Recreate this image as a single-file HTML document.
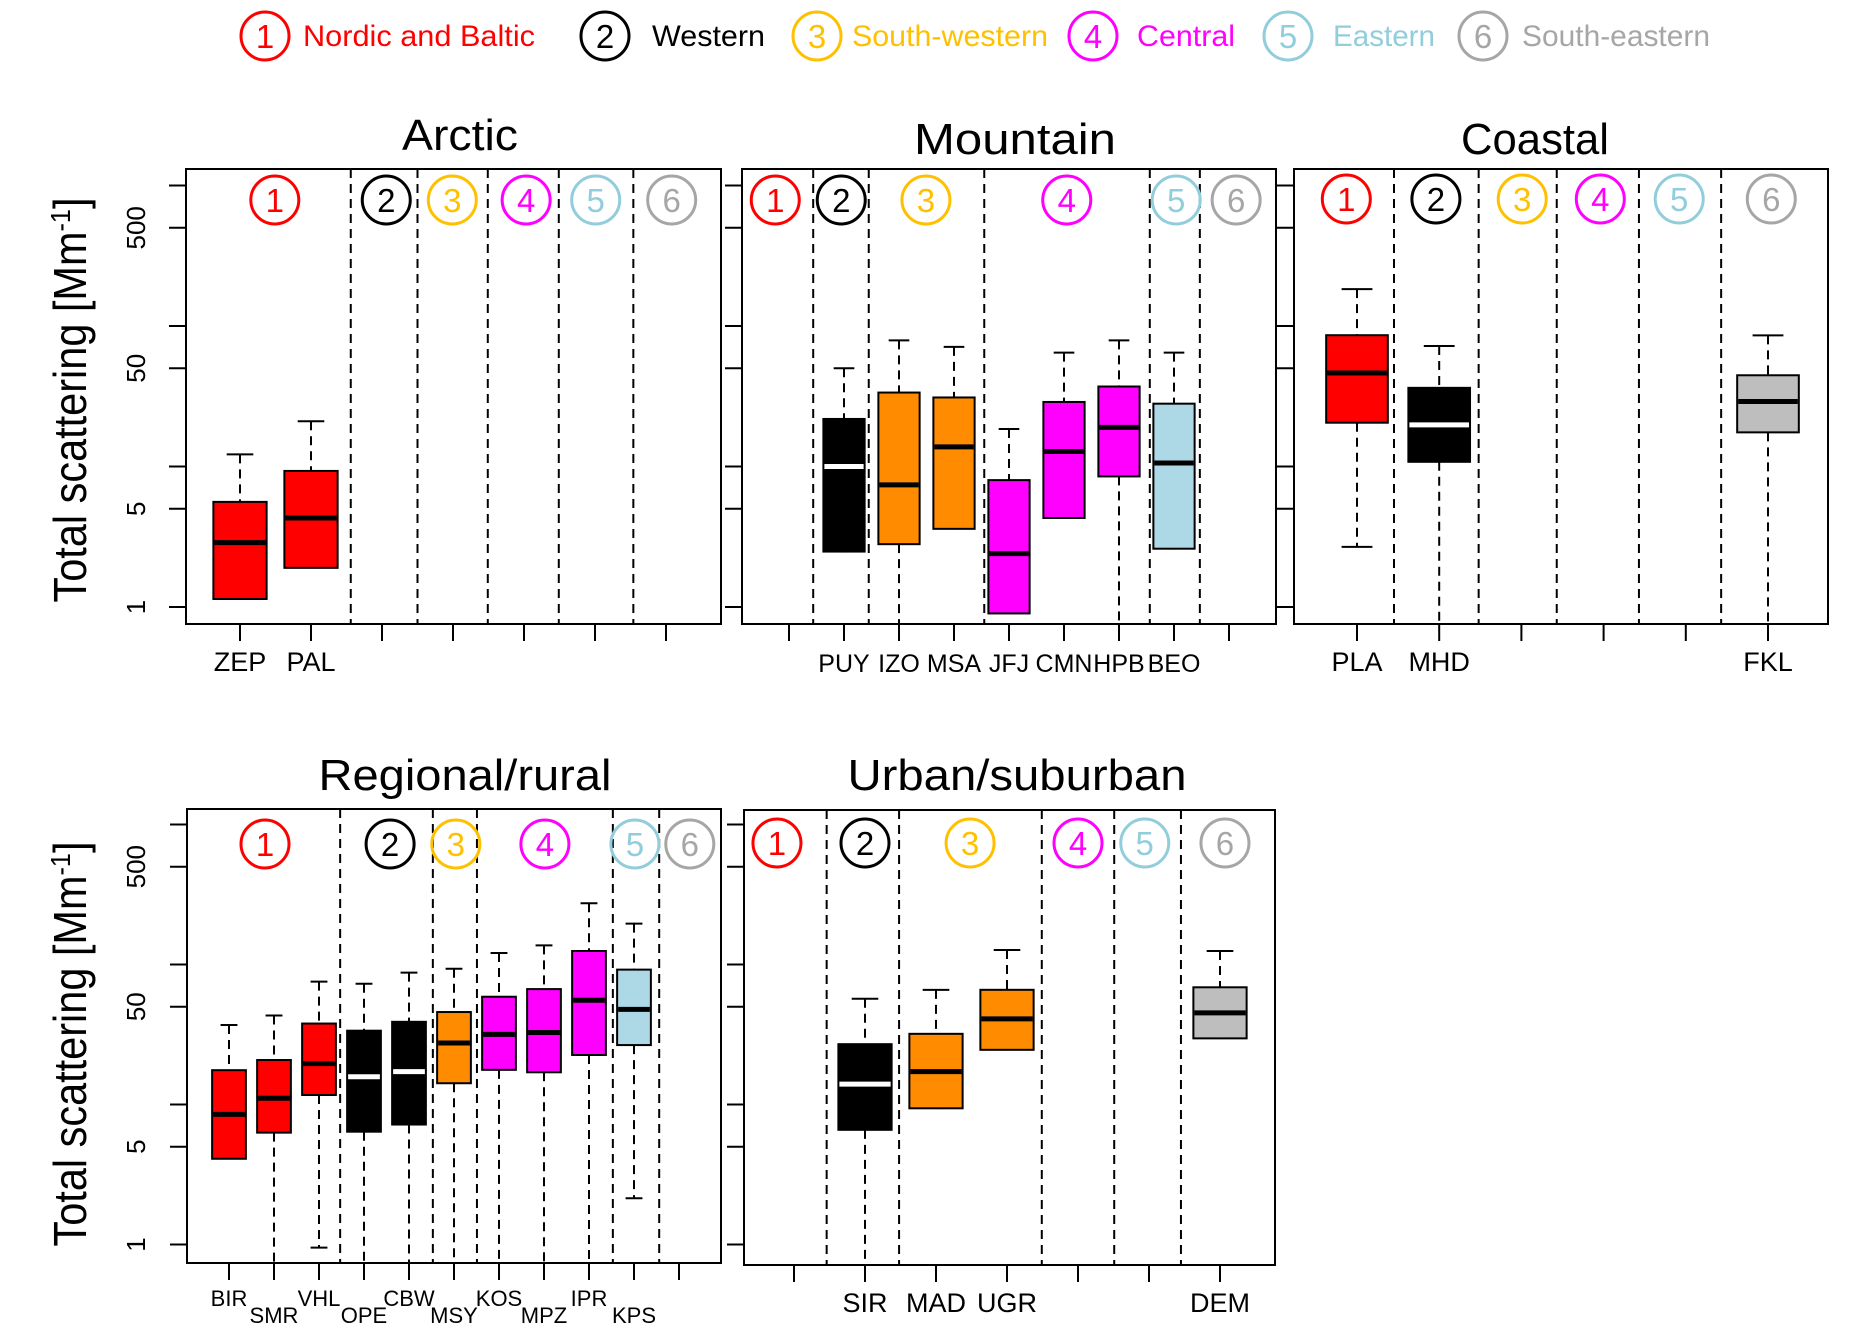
<!DOCTYPE html>
<html><head><meta charset="utf-8"><style>
html,body{margin:0;padding:0;background:#fff}
svg{display:block;font-family:"Liberation Sans",sans-serif}
</style></head><body>
<svg id="fig" width="1858" height="1340" viewBox="0 0 1858 1340" xmlns="http://www.w3.org/2000/svg">
<g id="legend"></g>
<g id="panels"></g>
<text transform="translate(86,400) rotate(-90)" text-anchor="middle" font-size="46" textLength="405" lengthAdjust="spacingAndGlyphs">Total scattering [Mm<tspan dy="-16" font-size="28">-1</tspan><tspan dy="16">]</tspan></text>
<text transform="translate(86,1044) rotate(-90)" text-anchor="middle" font-size="46" textLength="405" lengthAdjust="spacingAndGlyphs">Total scattering [Mm<tspan dy="-16" font-size="28">-1</tspan><tspan dy="16">]</tspan></text>
</svg>
<script>
// ---- data ----
const regionNames = ["Nordic and Baltic","Western","South-western","Central","Eastern","South-eastern"];
const yTickLabels = ["1","5","50","500"];
const yTickValues = [1,5,10,50,100,500,1000];

const arcticStations = ["ZEP","PAL"];
const arcticPos = [1,2];
const arcticRegion = [1,1];
const arcticLow = [1.14,1.9];
const arcticQ1 = [1.14,1.9];
const arcticMed = [2.87,4.3];
const arcticQ3 = [5.6,9.3];
const arcticHigh = [12.2,21];

const mountainStations = ["PUY","IZO","MSA","JFJ","CMN","HPB","BEO"];
const mountainPos = [2,3,4,5,6,7,8];
const mountainRegion = [2,3,3,4,4,4,5];
const mountainLow = [2.48,0.5,3.6,0.9,4.3,0.5,2.6];
const mountainQ1 = [2.48,2.8,3.6,0.9,4.3,8.5,2.6];
const mountainMed = [10,7.4,13.8,2.4,12.8,19,10.6];
const mountainQ3 = [21.8,33.6,31,8,28.8,37.1,28];
const mountainHigh = [50,79,71,18.5,64.6,79,64.6];

const coastalStations = ["PLA","MHD","FKL"];
const coastalPos = [1,2,6];
const coastalRegion = [1,2,6];
const coastalLow = [2.68,0.5,0.5];
const coastalQ1 = [20.5,10.8,17.5];
const coastalMed = [46.3,19.8,29];
const coastalQ3 = [86,36.3,44.6];
const coastalHigh = [183,72,85.8];

const regionalStations = ["BIR","SMR","VHL","OPE","CBW","MSY","KOS","MPZ","IPR","KPS"];
const regionalPos = [1,2,3,4,5,6,7,8,9,10];
const regionalRegion = [1,1,1,2,2,3,4,4,4,5];
const regionalLow = [4.1,0.5,0.95,0.5,0.5,0.5,0.5,0.5,0.5,2.14];
const regionalQ1 = [4.1,6.3,11.7,6.4,7.2,14.2,17.7,17,22.6,26.6];
const regionalMed = [8.5,11.1,19.6,15.8,17.2,27.5,31.7,32.7,55.6,47.8];
const regionalQ3 = [17.6,20.8,37.9,33.7,39,45.8,58.9,66.8,125,92];
const regionalHigh = [37,43.3,75.6,72.9,87.5,93.4,121,137,274,196];

const urbanStations = ["SIR","MAD","UGR","DEM"];
const urbanPos = [2,3,4,7];
const urbanRegion = [2,3,3,6];
const urbanLow = [0.5,9.4,24.6,29.7];
const urbanQ1 = [6.6,9.4,24.6,29.7];
const urbanMed = [14,17.2,40.9,45.2];
const urbanQ3 = [27,32,66,68.8];
const urbanHigh = [57,66,127,125];

// ---- styles ----
const boxFill = ["#FF0000","#000000","#FF8C00","#FF00FF","#ADD8E6","#BEBEBE"];
const circleCol = ["#FF0000","#000000","#FFC000","#FF00FF","#92CDDC","#A6A6A6"];
const NS="http://www.w3.org/2000/svg";
function mk(tag,attrs,parent){const e=document.createElementNS(NS,tag);for(const k in attrs)e.setAttribute(k,attrs[k]);parent.appendChild(e);return e;}

const panelsG=document.getElementById('panels');
const panels=[
 {key:"arctic",title:"Arctic",tx:460,tw:116,ty:150,L:186,R:721,T:169,B:624,x1:240,step:71,nt:7,y50:368.3,dec:140.5,
  dashed:[2.56,3.5,4.49,5.49,6.54],circ:[1.49,3.06,3.99,5.03,6.01,7.08],cy:200,
  st:arcticStations,pos:arcticPos,reg:arcticRegion,lo:arcticLow,q1:arcticQ1,md:arcticMed,q3:arcticQ3,hi:arcticHigh,lf:27,ly:[671,671],yl:true},
 {key:"mountain",title:"Mountain",tx:1015,tw:202,ty:154,L:742,R:1276,T:169,B:624,x1:789,step:55,nt:9,y50:368.3,dec:140.5,
  dashed:[1.44,2.45,4.55,7.56,8.47],circ:[0.75,1.95,3.49,6.05,8.04,9.13],cy:200,
  st:mountainStations,pos:mountainPos,reg:mountainRegion,lo:mountainLow,q1:mountainQ1,md:mountainMed,q3:mountainQ3,hi:mountainHigh,lf:25,ly:[672,672],yl:false},
 {key:"coastal",title:"Coastal",tx:1535,tw:148,ty:154,L:1294,R:1828,T:169,B:624,x1:1357,step:82.2,nt:6,y50:368.3,dec:140.5,
  dashed:[1.45,2.48,3.43,4.43,5.43],circ:[0.87,1.96,3.01,3.96,4.92,6.04],cy:199,
  st:coastalStations,pos:coastalPos,reg:coastalRegion,lo:coastalLow,q1:coastalQ1,md:coastalMed,q3:coastalQ3,hi:coastalHigh,lf:27,ly:[671,671],yl:false},
 {key:"regional",title:"Regional/rural",tx:465,tw:293,ty:790,L:187,R:721,T:809,B:1263,x1:229,step:45,nt:11,y50:1006.7,dec:140,
  dashed:[3.47,5.53,6.51,9.53,10.56],circ:[1.8,4.58,6.04,8.02,10.02,11.24],cy:844,
  st:regionalStations,pos:regionalPos,reg:regionalRegion,lo:regionalLow,q1:regionalQ1,md:regionalMed,q3:regionalQ3,hi:regionalHigh,lf:22,ly:[1306,1323],yl:true},
 {key:"urban",title:"Urban/suburban",tx:1017,tw:339,ty:790,L:744,R:1275,T:810,B:1265,x1:794,step:71,nt:7,y50:1006.7,dec:140,
  dashed:[1.46,2.48,4.49,5.51,6.45],circ:[0.76,2.0,3.48,5.0,5.94,7.07],cy:843,
  st:urbanStations,pos:urbanPos,reg:urbanRegion,lo:urbanLow,q1:urbanQ1,md:urbanMed,q3:urbanQ3,hi:urbanHigh,lf:27,ly:[1312,1312],yl:false}
];

function drawCircle(parent,cx,cy,r,i,name){
  const c=mk('circle',{cx:cx,cy:cy,r:r,fill:'none',stroke:circleCol[i],'stroke-width':3},parent);
  
  
  const t=mk('text',{x:cx,y:cy+12,'text-anchor':'middle','font-size':33,fill:circleCol[i]},parent);
  t.textContent=String(i+1);
  
  
}

panels.forEach(p=>{
  const g=mk('g',{},panelsG);
  
  
  const X=pos=>p.x1+(pos-1)*p.step;
  const Y=v=>p.y50-p.dec*Math.log10(v/50);
  const clip=mk('clipPath',{id:'clip-'+p.key},g);
  mk('rect',{x:p.L,y:p.T,width:p.R-p.L,height:p.B-p.T},clip);
  const tt=mk('text',{x:p.tx,y:p.ty,'text-anchor':'middle','font-size':44,textLength:p.tw,lengthAdjust:'spacingAndGlyphs'},g);
  tt.textContent=p.title;
  
  
  yTickValues.forEach(v=>{
    const tk=mk('line',{x1:p.L-17,x2:p.L,y1:Y(v),y2:Y(v),stroke:'#000','stroke-width':2},g);
    
    
  });
  if(p.yl){
    yTickLabels.forEach(s=>{
      const v=parseFloat(s);
      const tl=mk('text',{transform:`translate(145,${Y(v)}) rotate(-90)`,'text-anchor':'middle','font-size':26},g);
      tl.textContent=s;
      
      
    });
  }
  for(let i=1;i<=p.nt;i++){
    const xt=mk('line',{x1:X(i),x2:X(i),y1:p.B,y2:p.B+17,stroke:'#000','stroke-width':2},g);
    
    
  }
  p.dashed.forEach(d=>{
    const dl=mk('line',{x1:X(d),x2:X(d),y1:p.T,y2:p.B,stroke:'#000','stroke-width':2,'stroke-dasharray':'9,6'},g);
    
    
  });
  p.circ.forEach((c,i)=>drawCircle(g,X(c),p.cy,24,i,'region-'+(i+1)));
  const bw=p.step*0.75;
  const bg=mk('g',{'clip-path':`url(#clip-${p.key})`},g);
  p.st.forEach((s,i)=>{
    const sg=mk('g',{},bg);
    
    
    const x=X(p.pos[i]), r=p.reg[i]-1;
    const yH=Y(p.hi[i]), yQ3=Y(p.q3[i]), yM=Y(p.md[i]), yQ1=Y(p.q1[i]), yL=Y(p.lo[i]);
    mk('line',{x1:x,x2:x,y1:yH,y2:yQ3,stroke:'#000','stroke-width':2,'stroke-dasharray':'9,6'},sg);
    mk('line',{x1:x,x2:x,y1:yQ1,y2:yL,stroke:'#000','stroke-width':2,'stroke-dasharray':'9,6'},sg);
    mk('line',{x1:x-bw/4,x2:x+bw/4,y1:yH,y2:yH,stroke:'#000','stroke-width':2},sg);
    if(p.lo[i]<p.q1[i]) mk('line',{x1:x-bw/4,x2:x+bw/4,y1:yL,y2:yL,stroke:'#000','stroke-width':2},sg);
    mk('rect',{x:x-bw/2,y:yQ3,width:bw,height:yQ1-yQ3,fill:boxFill[r],stroke:'#000','stroke-width':2},sg);
    mk('line',{x1:x-bw/2+1,x2:x+bw/2-1,y1:yM,y2:yM,stroke:r===1?'#fff':'#000','stroke-width':5},sg);
  });
  p.st.forEach((s,i)=>{
    const lt=mk('text',{x:X(p.pos[i]),y:p.ly[i%2],'text-anchor':'middle','font-size':p.lf},g);
    lt.textContent=s;
    
    
  });
  const fr=mk('rect',{x:p.L,y:p.T,width:p.R-p.L,height:p.B-p.T,fill:'none',stroke:'#000','stroke-width':2},g);
  
  
});

const lg=document.getElementById('legend');
const legCx=[265,605,817,1093,1288,1483];
const legTx=[303,652,852,1137,1333,1522];
const legTw=[232,113,196,98,102,188];
regionNames.forEach((n,i)=>{
  const eg=mk('g',{},lg);
  
  
  drawCircle(eg,legCx[i],36,24,i,'legend-'+(i+1));
  const t=mk('text',{x:legTx[i],y:46,'font-size':30,fill:circleCol[i],textLength:legTw[i],lengthAdjust:'spacingAndGlyphs'},eg);
  t.textContent=n;
  
  
});
</script>
</body></html>
